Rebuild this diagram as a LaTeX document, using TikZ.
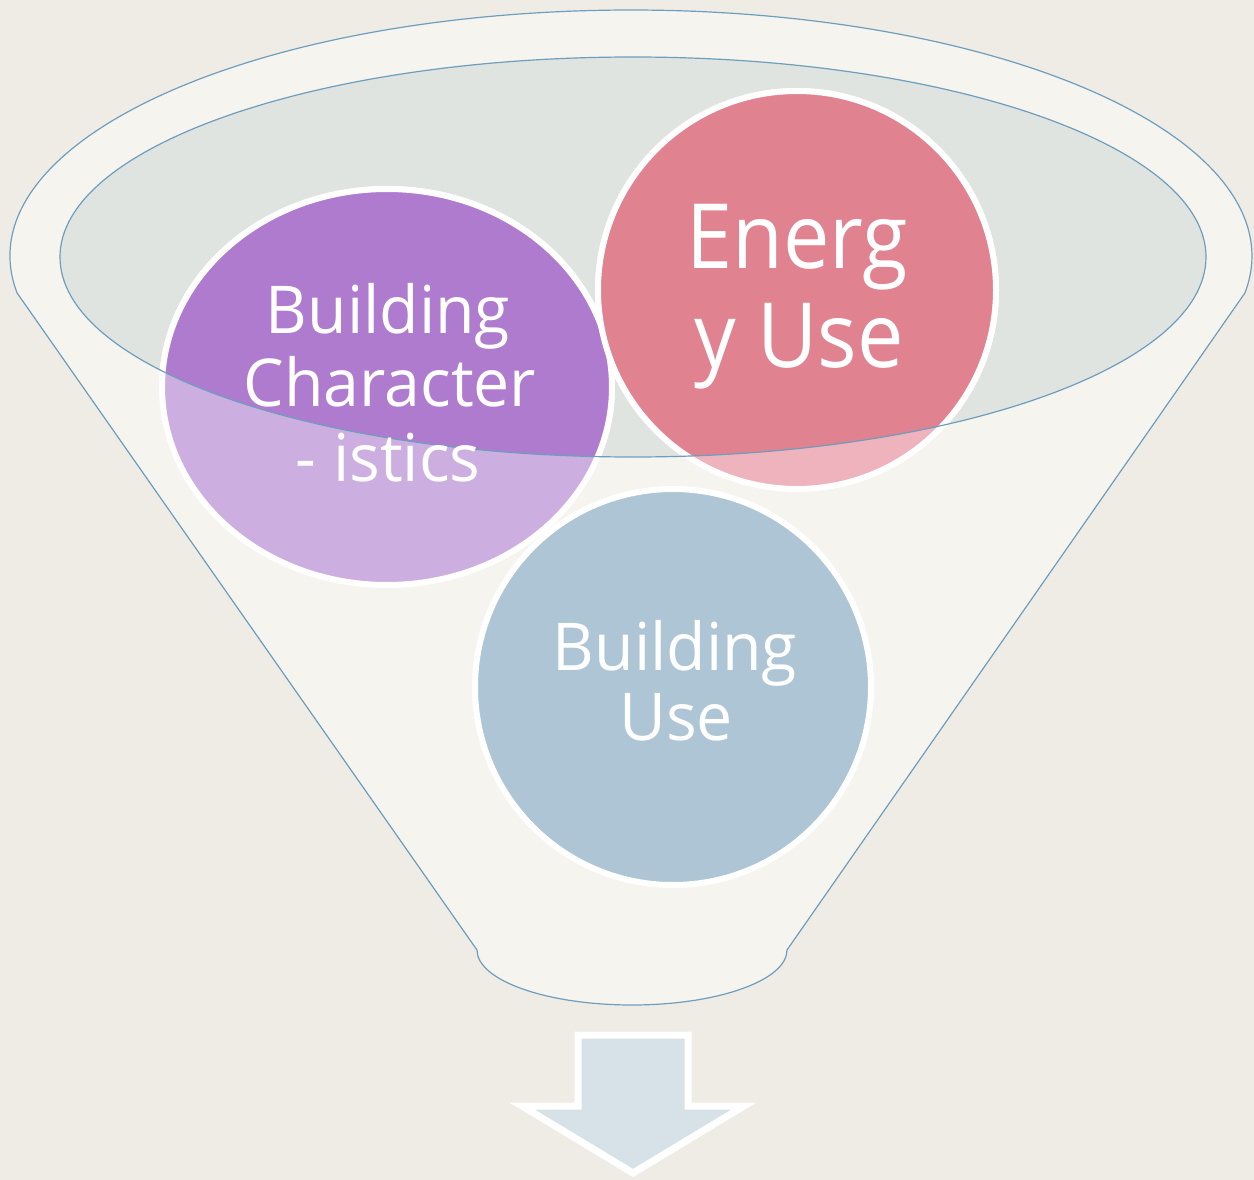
\documentclass[tikz,border=0pt]{standalone}
\usepackage{fontspec}
\setmainfont{Open Sans}
\newfontfamily\fa[FakeStretch=0.975]{Open Sans}
\newfontfamily\fb[FakeStretch=0.92]{Open Sans}
\definecolor{bg}{HTML}{EFECE5}
\definecolor{funnel}{HTML}{F5F4EF}
\definecolor{mouth}{HTML}{DFE4E0}
\definecolor{edge}{HTML}{6E9EBE}
\definecolor{purpD}{HTML}{AF7BCF}
\definecolor{purpL}{HTML}{CDAEE0}
\definecolor{pinkD}{HTML}{E18290}
\definecolor{pinkL}{HTML}{EEB3BC}
\definecolor{blueC}{HTML}{ADC5D4}
\definecolor{arrowfill}{HTML}{D6E2E7}
\tikzset{
  bubble/.style={draw=white, line width=6pt},
  lbl/.style={text=white, inner sep=0pt, anchor=base},
  lblA/.style={lbl, font=\fa\fontsize{66}{74}\selectfont},
  lblB/.style={lbl, font=\fb\fontsize{90}{99}\selectfont},
}
\begin{document}
\begin{tikzpicture}[x=1pt,y=-1pt]
\fill[bg] (0,0) rectangle (1254,1180);
\useasboundingbox (0,0) rectangle (1254,1180);
% funnel body
\path[fill=funnel, draw=edge, line width=1.2pt]
  (631,256) ++(171.35:621 and 246)
  arc[start angle=171.35, end angle=368.65, x radius=621, y radius=246]
  -- (787,950)
  arc[start angle=0, end angle=180, x radius=155, y radius=55]
  -- cycle;
% mouth
\fill[mouth] (633,257) ellipse[x radius=573, y radius=200];
% bubbles, outside mouth (light)
\path[bubble, fill=purpL] (387,387) ellipse[x radius=225, y radius=198];
\path[bubble, fill=pinkL] (797,290) circle[radius=199];
% bubbles, inside mouth (dark)
\begin{scope}
  \clip (633,257) ellipse[x radius=573, y radius=200];
  \path[bubble, fill=purpD] (387,387) ellipse[x radius=225, y radius=198];
  \path[bubble, fill=pinkD] (797,290) circle[radius=199];
\end{scope}
\draw[edge, line width=1.2pt] (633,257) ellipse[x radius=573, y radius=200];
\path[bubble, fill=blueC] (673,687) circle[radius=198];
% labels
\node[lblA] (bc1) at (388,333) {Building};
\node[lblA] (bc2) at (390,406) {Character};
\node[lblA] (bc3) at (388,481) {- istics};
\node[lblB] (eu1) at (797,268) {Energ};
\node[lblB] (eu2) at (799,367) {y Use};
\node[lblA] (bu1) at (675,670) {Building};
\node[lblA] (bu2) at (676,740) {Use};
% arrow
\path[fill=arrowfill, draw=white, line width=7pt, line join=miter]
  (578,1035) -- (688,1035) -- (688,1106) -- (744,1106) -- (633,1173)
  -- (522,1106) -- (578,1106) -- cycle;
\end{tikzpicture}
\end{document}
